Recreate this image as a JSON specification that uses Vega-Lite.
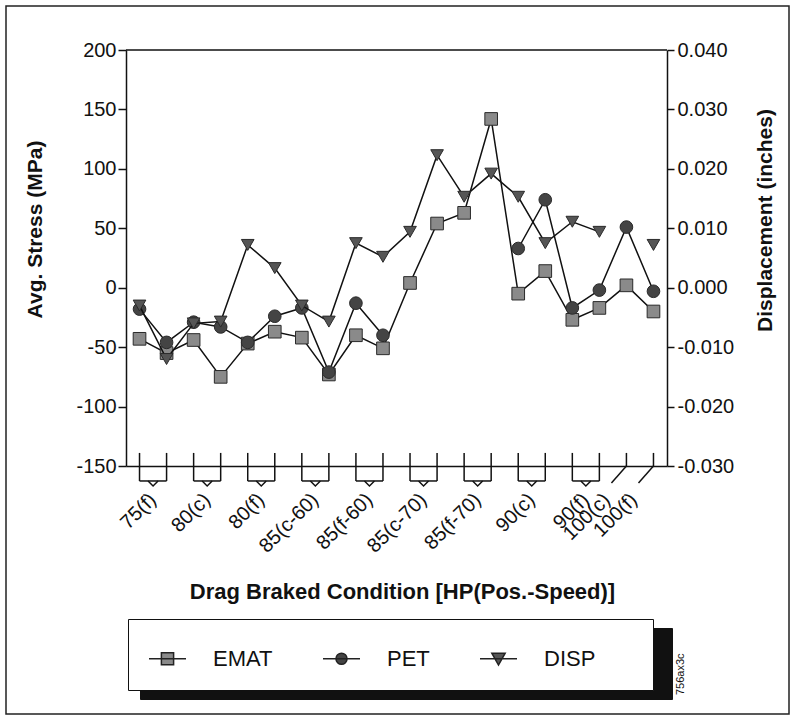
{
  "$schema": "https://vega.github.io/schema/vega-lite/v6.json",
  "width": 783,
  "height": 708,
  "autosize": {"type": "none"},
  "padding": {"left": 6, "top": 6, "right": 4, "bottom": 4},
  "background": "white",
  "config": {
    "view": {"stroke": "#222", "strokeWidth": 1.5},
    "font": "Liberation Sans",
    "axis": {"domainColor": "#111", "domainWidth": 1.5, "tickColor": "#111", "tickWidth": 1.5, "labelColor": "#111", "titleColor": "#111", "grid": false, "labelFont": "Liberation Sans", "titleFont": "Liberation Sans"}
  },
  "title": {"text": "756ax3c", "orient": "right", "anchor": "end", "angle": 270, "align": "left", "baseline": "middle", "offset": -119, "dx": 19, "frame": "group", "fontSize": 11, "fontWeight": "normal", "font": "Liberation Sans", "color": "#111"},
  "datasets": {
    "main": [
      {"idx": 0, "EMAT": -43, "PET": -18, "DISP": -0.003},
      {"idx": 1, "EMAT": -55, "PET": -46, "DISP": -0.012},
      {"idx": 2, "EMAT": -44, "PET": -29, "DISP": -0.006},
      {"idx": 3, "EMAT": -75, "PET": -33, "DISP": -0.0057},
      {"idx": 4, "EMAT": -47, "PET": -46, "DISP": 0.0072},
      {"idx": 5, "EMAT": -37, "PET": -24, "DISP": 0.0033},
      {"idx": 6, "EMAT": -42, "PET": -17, "DISP": -0.003},
      {"idx": 7, "EMAT": -73, "PET": -71, "DISP": -0.0057},
      {"idx": 8, "EMAT": -40, "PET": -13, "DISP": 0.0075},
      {"idx": 9, "EMAT": -51, "PET": -40, "DISP": 0.0052},
      {"idx": 10, "EMAT": 4, "PET": null, "DISP": 0.0094},
      {"idx": 11, "EMAT": 54, "PET": null, "DISP": 0.0223},
      {"idx": 12, "EMAT": 63, "PET": null, "DISP": 0.0153},
      {"idx": 13, "EMAT": 142, "PET": null, "DISP": 0.0192},
      {"idx": 14, "EMAT": -5, "PET": 33, "DISP": 0.0153},
      {"idx": 15, "EMAT": 14, "PET": 74, "DISP": 0.0075},
      {"idx": 16, "EMAT": -27, "PET": -17, "DISP": 0.0111},
      {"idx": 17, "EMAT": -17, "PET": -2, "DISP": 0.0094},
      {"idx": 18, "EMAT": 2, "PET": 51, "DISP": null},
      {"idx": 19, "EMAT": -20, "PET": -3, "DISP": 0.0072}
    ],
    "groups": [
      {"label": "75(f)", "a": 0, "b": 1},
      {"label": "80(c)", "a": 2, "b": 3},
      {"label": "80(f)", "a": 4, "b": 5},
      {"label": "85(c-60)", "a": 6, "b": 7},
      {"label": "85(f-60)", "a": 8, "b": 9},
      {"label": "85(c-70)", "a": 10, "b": 11},
      {"label": "85(f-70)", "a": 12, "b": 13},
      {"label": "90(c)", "a": 14, "b": 15},
      {"label": "90(f)", "a": 16, "b": 17},
      {"label": "100(c)", "a": 18, "b": 18},
      {"label": "100(f)", "a": 19, "b": 19}
    ]
  },
  "layer": [
    {
      "layer": [
        {
          "data": {"name": "main"},
          "transform": [{"fold": ["EMAT", "PET"], "as": ["series", "value"]}],
          "mark": {"type": "line", "color": "#111", "strokeWidth": 1.5, "invalid": "break-paths-filter-domains"},
          "encoding": {
            "x": {"field": "idx", "type": "quantitative", "title": "Drag Braked Condition [HP(Pos.-Speed)]",
              "scale": {"domain": [-0.5, 19.5], "range": [120, 661], "nice": false, "zero": false},
              "axis": {"orient": "bottom", "offset": -248, "values": [0,1,2,3,4,5,6,7,8,9,10,11,12,13,14,15,16,17,18,19], "labels": false, "ticks": false,
                "titleFontSize": 22, "titleFontWeight": "bold", "titleX": 396, "titleY": 132, "titleAlign": "center", "titleBaseline": "alphabetic"}},
            "y": {"field": "value", "type": "quantitative", "title": "Avg. Stress (MPa)",
              "scale": {"domain": [-150, 200], "range": [460, 44], "nice": false, "zero": false},
              "axis": {"orient": "left", "offset": -120, "values": [-150, -100, -50, 0, 50, 100, 150, 200], "tickSize": 8, "labelFontSize": 20, "labelPadding": 2,
                "labelExpr": "replace(datum.label, '\u2212', '-')",
                "titleFontSize": 21, "titleFontWeight": "bold", "titleAngle": 270, "titleX": -91, "titleY": 223, "titleAlign": "center", "titleBaseline": "middle"}},
            "detail": {"field": "series"}
          }
        },
        {
          "data": {"name": "main"},
          "transform": [{"fold": ["EMAT", "PET"], "as": ["series", "value"]}, {"filter": "isValid(datum.value)"}],
          "mark": {"type": "point", "filled": true, "size": 160, "stroke": "#2a2a2a", "strokeWidth": 1, "opacity": 1},
          "encoding": {
            "x": {"field": "idx", "type": "quantitative", "title": "Drag Braked Condition [HP(Pos.-Speed)]", "scale": {"domain": [-0.5, 19.5], "range": [120, 661], "nice": false, "zero": false}},
            "y": {"field": "value", "type": "quantitative", "title": "Avg. Stress (MPa)", "scale": {"domain": [-150, 200], "range": [460, 44], "nice": false, "zero": false}},
            "fill": {"field": "series", "type": "nominal", "legend": null, "scale": {"domain": ["EMAT", "PET"], "range": ["#8a8a8a", "#444444"]}},
            "shape": {"field": "series", "type": "nominal", "legend": null, "scale": {"domain": ["EMAT", "PET"], "range": ["square", "circle"]}}
          }
        },
        {
          "data": {"values": [{}]},
          "mark": {"type": "rule", "color": "#111", "strokeWidth": 1.5},
          "encoding": {
            "x": {"datum": -0.5, "type": "quantitative", "scale": {"domain": [-0.5, 19.5], "range": [120, 661], "nice": false, "zero": false}},
            "x2": {"datum": 19.5},
            "y": {"datum": 200, "type": "quantitative", "scale": {"domain": [-150, 200], "range": [460, 44], "nice": false, "zero": false}}
          }
        },
        {
          "data": {"name": "main"},
          "transform": [{"filter": "datum.idx < 18"}],
          "mark": {"type": "rule", "color": "#111", "strokeWidth": 1.5},
          "encoding": {
            "x": {"field": "idx", "type": "quantitative", "title": "Drag Braked Condition [HP(Pos.-Speed)]", "scale": {"domain": [-0.5, 19.5], "range": [120, 661], "nice": false, "zero": false}},
            "y": {"datum": -139, "type": "quantitative", "scale": {"domain": [-150, 200], "range": [460, 44], "nice": false, "zero": false}},
            "y2": {"datum": -162.6}
          }
        },
        {
          "data": {"name": "main"},
          "transform": [{"filter": "datum.idx >= 18"}],
          "mark": {"type": "rule", "color": "#111", "strokeWidth": 1.5},
          "encoding": {
            "x": {"field": "idx", "type": "quantitative", "title": "Drag Braked Condition [HP(Pos.-Speed)]", "scale": {"domain": [-0.5, 19.5], "range": [120, 661], "nice": false, "zero": false}},
            "y": {"datum": -139, "type": "quantitative", "scale": {"domain": [-150, 200], "range": [460, 44], "nice": false, "zero": false}},
            "y2": {"datum": -150}
          }
        },
        {
          "data": {"name": "groups"},
          "transform": [{"filter": "datum.a != datum.b"}],
          "mark": {"type": "rule", "color": "#111", "strokeWidth": 1.5},
          "encoding": {
            "x": {"field": "a", "type": "quantitative", "title": "Drag Braked Condition [HP(Pos.-Speed)]", "scale": {"domain": [-0.5, 19.5], "range": [120, 661], "nice": false, "zero": false}},
            "x2": {"field": "b"},
            "y": {"datum": -162.6, "type": "quantitative", "scale": {"domain": [-150, 200], "range": [460, 44], "nice": false, "zero": false}}
          }
        },
        {
          "data": {"name": "groups"},
          "transform": [{"filter": "datum.a != datum.b"}, {"calculate": "(datum.a + datum.b) / 2", "as": "mid"}],
          "mark": {"type": "point", "filled": false, "shape": "M-1,0L0,1L1,0", "size": 100, "stroke": "#111", "strokeWidth": 1.5, "opacity": 1},
          "encoding": {
            "x": {"field": "mid", "type": "quantitative", "title": "Drag Braked Condition [HP(Pos.-Speed)]", "scale": {"domain": [-0.5, 19.5], "range": [120, 661], "nice": false, "zero": false}},
            "y": {"datum": -162.6, "type": "quantitative", "scale": {"domain": [-150, 200], "range": [460, 44], "nice": false, "zero": false}}
          }
        },
        {
          "data": {"name": "groups"},
          "transform": [{"filter": "datum.a == datum.b"}],
          "mark": {"type": "rule", "color": "#111", "strokeWidth": 1.5, "x2Offset": -15},
          "encoding": {
            "x": {"field": "a", "type": "quantitative", "title": "Drag Braked Condition [HP(Pos.-Speed)]", "scale": {"domain": [-0.5, 19.5], "range": [120, 661], "nice": false, "zero": false}},
            "x2": {"field": "b"},
            "y": {"datum": -150, "type": "quantitative", "scale": {"domain": [-150, 200], "range": [460, 44], "nice": false, "zero": false}},
            "y2": {"datum": -164.3}
          }
        },
        {
          "data": {"name": "groups"},
          "transform": [{"calculate": "datum.a == datum.b ? datum.a - 0.72 : (datum.a + datum.b) / 2", "as": "pos"}],
          "mark": {"type": "text", "angle": 315, "align": "right", "baseline": "middle", "fontSize": 20, "font": "Liberation Sans", "color": "#111"},
          "encoding": {
            "x": {"field": "pos", "type": "quantitative", "title": "Drag Braked Condition [HP(Pos.-Speed)]", "scale": {"domain": [-0.5, 19.5], "range": [120, 661], "nice": false, "zero": false}},
            "y": {"datum": -176, "type": "quantitative", "scale": {"domain": [-150, 200], "range": [460, 44], "nice": false, "zero": false}},
            "text": {"field": "label"}
          }
        }
      ]
    },
    {
      "layer": [
        {
          "data": {"name": "main"},
          "transform": [{"fold": ["DISP"], "as": ["series", "value"]}],
          "mark": {"type": "line", "color": "#111", "strokeWidth": 1.5, "invalid": "break-paths-filter-domains"},
          "encoding": {
            "x": {"field": "idx", "type": "quantitative", "title": "Drag Braked Condition [HP(Pos.-Speed)]", "scale": {"domain": [-0.5, 19.5], "range": [120, 661], "nice": false, "zero": false}},
            "y": {"field": "value", "type": "quantitative", "title": "Displacement (inches)",
              "scale": {"domain": [-0.03, 0.04], "range": [460, 44], "nice": false, "zero": false},
              "axis": {"orient": "right", "offset": -122, "values": [-0.03, -0.02, -0.01, 0, 0.01, 0.02, 0.03, 0.04], "format": ".3f", "tickSize": 7, "labelFontSize": 20, "labelPadding": 3,
                "labelExpr": "replace(datum.label, '\u2212', '-')",
                "titleFontSize": 21, "titleFontWeight": "bold", "titleAngle": 270, "titleX": 98, "titleY": 214, "titleAlign": "center", "titleBaseline": "middle"}}
          }
        },
        {
          "data": {"name": "main"},
          "transform": [{"fold": ["DISP"], "as": ["series", "value"]}, {"filter": "isValid(datum.value)"}],
          "mark": {"type": "point", "filled": true, "size": 160, "shape": "triangle-down", "fill": "#555555", "stroke": "#2a2a2a", "strokeWidth": 1, "opacity": 1},
          "encoding": {
            "x": {"field": "idx", "type": "quantitative", "title": "Drag Braked Condition [HP(Pos.-Speed)]", "scale": {"domain": [-0.5, 19.5], "range": [120, 661], "nice": false, "zero": false}},
            "y": {"field": "value", "type": "quantitative", "title": "Displacement (inches)", "scale": {"domain": [-0.03, 0.04], "range": [460, 44], "nice": false, "zero": false}}
          }
        }
      ]
    },
    {
      "data": {"name": "main"},
      "transform": [{"fold": ["EMAT", "PET", "DISP"], "as": ["series", "value"]}, {"filter": "isValid(datum.value)"}, {"calculate": "datum.series + '_'", "as": "series2"}],
      "mark": {"type": "point", "filled": true, "size": 0, "opacity": 1, "strokeWidth": 1.5},
      "encoding": {
        "x": {"field": "idx", "type": "quantitative", "title": "Drag Braked Condition [HP(Pos.-Speed)]", "scale": {"domain": [-0.5, 19.5], "range": [120, 661], "nice": false, "zero": false}},
        "y": {"field": "value", "type": "quantitative", "axis": null},
        "fill": {"field": "series", "type": "nominal",
          "scale": {"domain": ["EMAT", "PET", "DISP"], "range": ["#8a8a8a", "#444444", "#555555"]},
          "legend": {"orient": "none", "legendX": 122, "legendY": 613, "direction": "horizontal", "title": "\u00a0", "titleOrient": "right", "titlePadding": 38, "titleFontSize": 22,
            "fillColor": "white", "strokeColor": "#111", "padding": 20, "symbolSize": 1369, "symbolOpacity": 1, "symbolStrokeWidth": 1.5,
            "labelFontSize": 22, "labelFont": "Liberation Sans", "labelColor": "#111", "labelOffset": 26, "columnPadding": 47, "zindex": 2}},
        "stroke": {"field": "series", "type": "nominal",
          "scale": {"domain": ["EMAT", "PET", "DISP"], "range": ["#222222", "#222222", "#222222"]},
          "legend": {"orient": "none", "legendX": 122, "legendY": 613, "direction": "horizontal", "title": "\u00a0", "titleOrient": "right", "titlePadding": 38, "titleFontSize": 22,
            "fillColor": "white", "strokeColor": "#111", "padding": 20, "symbolSize": 1369, "symbolOpacity": 1, "symbolStrokeWidth": 1.5,
            "labelFontSize": 22, "labelFont": "Liberation Sans", "labelColor": "#111", "labelOffset": 26, "columnPadding": 47, "zindex": 2}},
        "shape": {"field": "series", "type": "nominal",
          "scale": {"domain": ["EMAT", "PET", "DISP"], "range": ["M-1,0L1,0M-0.33,-0.33L0.33,-0.33L0.33,0.33L-0.33,0.33Z", "M-1,0L1,0M-0.3,0A0.3,0.3,0,1,0,0.3,0A0.3,0.3,0,1,0,-0.3,0Z", "M-1,0L1,0M-0.36,-0.3L0.36,-0.3L0,0.34Z"]},
          "legend": {"orient": "none", "legendX": 122, "legendY": 613, "direction": "horizontal", "title": "\u00a0", "titleOrient": "right", "titlePadding": 38, "titleFontSize": 22,
            "fillColor": "white", "strokeColor": "#111", "padding": 20, "symbolSize": 1369, "symbolOpacity": 1, "symbolStrokeWidth": 1.5,
            "labelFontSize": 22, "labelFont": "Liberation Sans", "labelColor": "#111", "labelOffset": 26, "columnPadding": 47, "zindex": 2}},
        "strokeDash": {"field": "series2", "type": "nominal",
          "scale": {"domain": ["EMAT_", "PET_", "DISP_"], "range": [[1, 0], [1, 0], [1, 0]]},
          "legend": {"orient": "none", "legendX": 134, "legendY": 622, "direction": "horizontal", "title": null,
            "fillColor": "#111", "strokeColor": "#111", "padding": 16.5, "symbolSize": 1369, "symbolStrokeWidth": 1.5, "symbolOpacity": 0,
            "labelFontSize": 22, "labelOffset": 0, "columnPadding": 191, "labelExpr": "''", "zindex": 1}}
      }
    }
  ],
  "resolve": {"scale": {"y": "independent", "fill": "independent", "shape": "independent", "stroke": "independent"}}
}
